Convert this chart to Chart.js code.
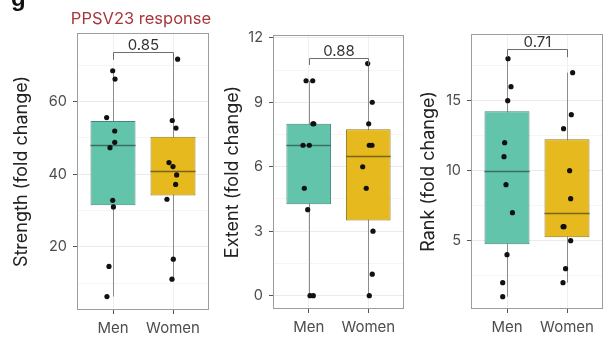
<!DOCTYPE html>
<html>
<head>
<meta charset="utf-8">
<script src="https://cdn.jsdelivr.net/npm/chart.js@4.4.1/dist/chart.umd.min.js"></script>
<style>
  html, body { margin: 0; padding: 0; background: #fff; width: 609px; height: 339px; overflow: hidden; }
  .panel { position: absolute; top: 0; }
  canvas { display: block; }
</style>
</head>
<body>
<div class="panel" style="left:0px"><canvas id="strength" width="215" height="339"></canvas></div>
<div class="panel" style="left:210px"><canvas id="extent" width="200" height="339"></canvas></div>
<div class="panel" style="left:405px"><canvas id="rank" width="204" height="339"></canvas></div>
<script>
// Groups on the x axis
const groups = ['Men', 'Women'];

// Strength (fold change), one value per participant
const strengthMen   = [68.5, 66.2, 55.6, 51.9, 48.8, 47.3, 32.8, 31.0, 14.6, 6.3];
const strengthWomen = [71.7, 54.8, 52.7, 43.2, 42.1, 39.8, 37.2, 33.1, 16.6, 11.1];
// Extent (fold change)
const extentMen   = [10, 10, 8, 8, 7, 7, 5, 4, 0, 0];
const extentWomen = [10.8, 9, 8, 7, 7, 6, 5, 3, 1, 0];
// Rank (fold change)
const rankMen   = [18, 16, 15, 12, 11, 9, 7, 4, 2, 1];
const rankWomen = [17, 14, 13, 10, 8, 6, 6, 5, 3, 2];

// Horizontal jitter of each dot, in group units
const strengthMenJitter   = [-0.005, 0.034, -0.106, 0.029, 0.029, -0.05, -0.005, 0.007, -0.067, -0.101];
const strengthWomenJitter = [0.077, -0.012, 0.05, -0.067, 0, 0.061, 0.044, -0.101, 0.005, -0.017];
const extentMenJitter     = [-0.045, 0.067, 0.07, 0.085, -0.096, 0.01, -0.074, -0.017, 0.022, 0.077];
const extentWomenJitter   = [-0.01, 0.067, 0.007, 0.017, 0.062, -0.094, -0.034, 0.079, 0.067, 0.017];
const rankMenJitter       = [0.017, 0.067, 0.012, -0.039, -0.05, -0.017, 0.091, 0, -0.072, -0.072];
const rankWomenJitter     = [0.094, 0.072, -0.057, 0.044, 0.061, -0.065, -0.05, 0.061, -0.024, -0.067];

// Tick values (labelled majors, unlabelled minors)
const strengthTicks = [20, 40, 60];
const strengthMinor = [10, 30, 50, 70];
const extentTicks = [0, 3, 6, 9, 12];
const extentMinor = [1.5, 4.5, 7.5, 10.5];
const rankTicks = [5, 10, 15];
const rankMinor = [2.5, 7.5, 12.5, 17.5];

// Wilcoxon p-values shown over each pair, and bracket heights
const strengthP = '0.85', extentP = '0.88', rankP = '0.71';
const strengthBracket = 73.6, extentBracket = 11.08, rankBracket = 18.68;

const FONT = 'Inter, "Liberation Sans", Arial, sans-serif';
const FILL = ['#62c4aa', '#e6b91e'];
const EDGE = ['#46877a', '#94791d'];
const MEDIAN = ['#3a6f63', '#7a6418'];

function quantile(sorted, p) {
  const pos = (sorted.length - 1) * p;
  const lo = Math.floor(pos), hi = Math.ceil(pos);
  return sorted[lo] + (sorted[hi] - sorted[lo]) * (pos - lo);
}
function boxStats(vals) {
  const s = [...vals].sort((a, b) => a - b);
  const q1 = quantile(s, 0.25), med = quantile(s, 0.5), q3 = quantile(s, 0.75);
  const iqr = q3 - q1;
  const lo = s.find(v => v >= q1 - 1.5 * iqr);
  const hi = [...s].reverse().find(v => v <= q3 + 1.5 * iqr);
  return { q1, med, q3, lo, hi };
}

// Whiskers, medians, frame and significance bracket
const boxExtras = {
  id: 'boxExtras',
  beforeDatasetsDraw(chart, args, o) {
    const { ctx, scales: { x, y } } = chart;
    ctx.save();
    ctx.strokeStyle = '#8c8c8c';
    ctx.lineWidth = 1;
    o.stats.forEach((b, i) => {
      const px = Math.round(x.getPixelForValue(i + 1)) + 0.5;
      ctx.beginPath();
      ctx.moveTo(px, y.getPixelForValue(b.lo));
      ctx.lineTo(px, y.getPixelForValue(b.hi));
      ctx.stroke();
    });
    ctx.restore();
  },
  afterDatasetDraw(chart, args, o) {
    if (args.meta.type !== 'bar') return;
    const { ctx, scales: { y } } = chart;
    ctx.save();
    ctx.lineWidth = 1.3;
    args.meta.data.forEach((el, i) => {
      const py = Math.round(y.getPixelForValue(o.stats[i].med)) + 0.5;
      ctx.strokeStyle = MEDIAN[i];
      ctx.beginPath();
      ctx.moveTo(el.x - el.width / 2, py);
      ctx.lineTo(el.x + el.width / 2, py);
      ctx.stroke();
    });
    ctx.restore();
  },
  afterDraw(chart, args, o) {
    const { ctx, chartArea: a, scales: { x, y } } = chart;
    ctx.save();
    ctx.strokeStyle = '#9d9d9d';
    ctx.lineWidth = 1;
    ctx.strokeRect(Math.round(a.left) + 0.5, Math.round(a.top) + 0.5,
                   Math.round(a.right - a.left) - 1, Math.round(a.bottom - a.top) - 1);
    // bracket
    const x1 = Math.round(x.getPixelForValue(1)) + 0.5;
    const x2 = Math.round(x.getPixelForValue(2)) + 0.5;
    const yb = Math.round(y.getPixelForValue(o.bracket)) + 0.5;
    const tip = y.getPixelForValue(o.bracket - o.tip) - y.getPixelForValue(o.bracket);
    ctx.strokeStyle = '#6e6e6e';
    ctx.beginPath();
    ctx.moveTo(x1, yb + tip);
    ctx.lineTo(x1, yb);
    ctx.lineTo(x2, yb);
    ctx.lineTo(x2, yb + tip);
    ctx.stroke();
    ctx.fillStyle = '#333';
    ctx.font = '15px ' + FONT;
    ctx.textAlign = 'center';
    ctx.textBaseline = 'alphabetic';
    ctx.fillText(o.label, (x1 + x2) / 2, yb - 3);
    ctx.restore();
  }
};

// Panel letter and figure heading
const heading = {
  id: 'heading',
  afterDraw(chart) {
    const { ctx } = chart;
    ctx.save();
    ctx.fillStyle = '#111';
    ctx.font = 'bold 24px "Liberation Sans", Arial, sans-serif';
    ctx.textBaseline = 'alphabetic';
    ctx.fillText('g', 11, 6);
    ctx.fillStyle = '#a8363a';
    ctx.font = '16.5px ' + FONT;
    ctx.textAlign = 'center';
    ctx.fillText('PPSV23 response', 141, 24);
    ctx.restore();
  }
};

function makePanel(id, cfg) {
  const canvas = document.getElementById(id);
  const W = canvas.width, H = canvas.height;
  const stats = [boxStats(cfg.men), boxStats(cfg.women)];
  const allTicks = [...cfg.majors, ...cfg.minors].sort((a, b) => a - b);
  const isMajor = v => cfg.majors.includes(v);
  const points = cfg.men.map((v, i) => ({ x: 1 + cfg.menJitter[i], y: v }))
    .concat(cfg.women.map((v, i) => ({ x: 2 + cfg.womenJitter[i], y: v })));
  return new Chart(canvas, {
    type: 'bar',
    data: {
      datasets: [
        {
          type: 'bar',
          data: stats.map((b, i) => ({ x: i + 1, y: [b.q1, b.q3] })),
          backgroundColor: FILL,
          borderColor: EDGE,
          borderWidth: 1,
          borderSkipped: false,
          categoryPercentage: 1,
          barPercentage: 0.75,
          order: 2
        },
        {
          type: 'scatter',
          data: points,
          pointRadius: 2.6,
          pointBackgroundColor: '#111',
          pointBorderWidth: 0,
          order: 1
        }
      ]
    },
    options: {
      responsive: false,
      animation: false,
      devicePixelRatio: 1,
      layout: { padding: { top: cfg.area.top, right: W - cfg.area.right, left: 0, bottom: 0 } },
      plugins: {
        legend: { display: false },
        tooltip: { enabled: false },
        boxExtras: { stats, bracket: cfg.bracket, tip: cfg.tip, label: cfg.p }
      },
      scales: {
        x: {
          type: 'linear', min: 0.4, max: 2.6, offset: false,
          afterBuildTicks: s => { s.ticks = groups.map((g, i) => ({ value: i + 1 })); },
          afterFit: s => { s.height = H - cfg.area.bottom; },
          ticks: {
            callback: v => groups[v - 1] ?? '',
            autoSkip: false, maxRotation: 0,
            color: '#4d4d4d', font: { family: FONT, size: 15 }, padding: 5
          },
          grid: { color: '#efefef', lineWidth: 1, tickLength: 4, tickColor: '#555', offset: false },
          border: { display: false }
        },
        y: {
          type: 'linear', min: cfg.yMin, max: cfg.yMax,
          afterBuildTicks: s => { s.ticks = allTicks.map(v => ({ value: v })); },
          afterFit: s => { s.width = cfg.area.left; },
          ticks: {
            callback: v => isMajor(v) ? String(v) : '',
            autoSkip: false,
            color: '#4d4d4d', font: { family: FONT, size: 14.5 }, padding: 6
          },
          grid: {
            color: c => isMajor(c.tick.value) ? '#ebebeb' : '#f5f5f5',
            lineWidth: 1, tickLength: 4,
            tickColor: c => isMajor(c.tick.value) ? '#555' : 'rgba(0,0,0,0)'
          },
          border: { display: false },
          title: {
            display: true, text: cfg.yTitle, color: '#222',
            font: { family: FONT, size: 18 }, padding: { top: cfg.titlePad, bottom: 0 }
          }
        }
      }
    },
    plugins: cfg.extra ? [boxExtras, heading] : [boxExtras]
  });
}

makePanel('strength', {
  men: strengthMen, women: strengthWomen,
  menJitter: strengthMenJitter, womenJitter: strengthWomenJitter,
  majors: strengthTicks, minors: strengthMinor,
  yMin: 2.6, yMax: 78.9, yTitle: 'Strength (fold change)',
  bracket: strengthBracket, tip: 2.0, p: strengthP,
  area: { left: 77, top: 33, right: 209, bottom: 310 }, titlePad: 11, extra: true
});
makePanel('extent', {
  men: extentMen, women: extentWomen,
  menJitter: extentMenJitter, womenJitter: extentWomenJitter,
  majors: extentTicks, minors: extentMinor,
  yMin: -0.62, yMax: 12.13, yTitle: 'Extent (fold change)',
  bracket: extentBracket, tip: 0.3, p: extentP,
  area: { left: 63, top: 35, right: 194, bottom: 309 }, titlePad: 12
});
makePanel('rank', {
  men: rankMen, women: rankWomen,
  menJitter: rankMenJitter, womenJitter: rankWomenJitter,
  majors: rankTicks, minors: rankMinor,
  yMin: 0.12, yMax: 19.76, yTitle: 'Rank (fold change)',
  bracket: rankBracket, tip: 0.55, p: rankP,
  area: { left: 66, top: 34, right: 198, bottom: 309 }, titlePad: 13
});
</script>
</body>
</html>
